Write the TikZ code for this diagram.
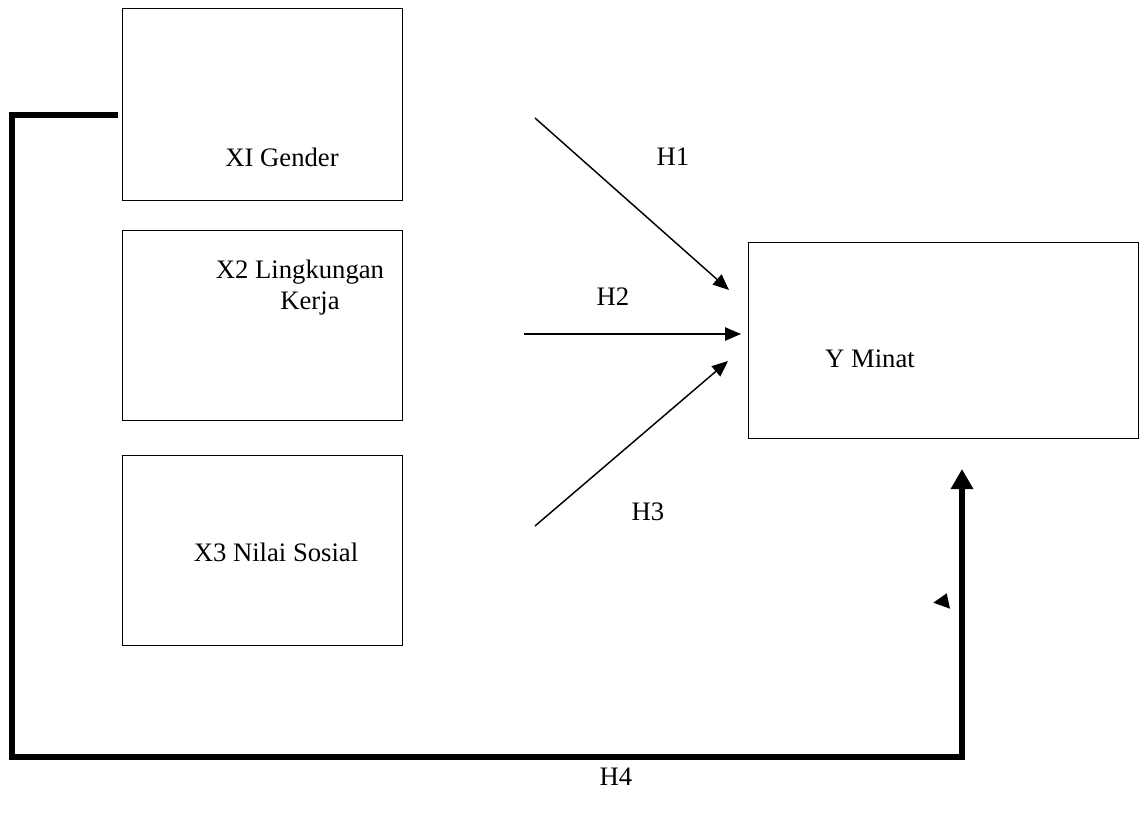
\documentclass[tikz,border=0pt]{standalone}
\usepackage{fontspec}
\setmainfont{Liberation Serif}
\usetikzlibrary{arrows.meta}
\begin{document}
\begin{tikzpicture}[x=0.75pt,y=-0.75pt,
  box/.style={draw,line width=0.9pt,anchor=north west,inner sep=0pt},
  lbl/.style={font=\fontsize{20}{24}\selectfont,inner sep=0pt},
  thin/.style={line width=1.1pt,-{Triangle[length=12pt,width=10pt]}},
  thick/.style={line width=4.5pt,line join=miter}]
\useasboundingbox (0,0) rectangle (1143,818);
\node[box,minimum width=280*0.75pt,minimum height=192*0.75pt] (b1) at (122,8) {};
\node[box,minimum width=280*0.75pt,minimum height=190*0.75pt] (b2) at (122,230) {};
\node[box,minimum width=280*0.75pt,minimum height=190*0.75pt] (b3) at (122,455) {};
\node[box,minimum width=390*0.75pt,minimum height=196*0.75pt] (y) at (748,242) {};
\node[lbl] (t1) at (282,157) {XI Gender};
\node[lbl] (t2a) at (300,272) {X2 Lingkungan};
\node[lbl] (t2b) at (310,304) {Kerja};
\node[lbl] (t3) at (276,552) {X3 Nilai Sosial};
\node[lbl] (ty) at (870,359) {Y Minat};
\node[lbl] (h1) at (673,157) {H1};
\node[lbl] (h2) at (613,297) {H2};
\node[lbl] (h3) at (648,512) {H3};
\node[lbl] (h4) at (616,777) {H4};
\coordinate (s1) at (535,118);
\coordinate (e1) at (729,290);
\coordinate (s2) at (524,334);
\coordinate (e2) at (741,334);
\coordinate (s3) at (535,526);
\coordinate (e3) at (728,361);
\draw[thin] (s1) -- (e1);
\draw[thin] (s2) -- (e2);
\draw[thin] (s3) -- (e3);
\coordinate (f0) at (118,115);
\coordinate (f1) at (12,115);
\coordinate (f2) at (12,757);
\coordinate (f3) at (962,757);
\coordinate (f4) at (962,469);
\draw[thick,-{Triangle[length=15pt,width=16pt]}] (f0) -- (f1) -- (f2) -- (f3) -- (f4);
\coordinate (m1) at (946.7,593.3);
\coordinate (m2) at (933.3,602.7);
\coordinate (m3) at (950,608.7);
\fill (m1) -- (m2) -- (m3) -- cycle;
\end{tikzpicture}
\end{document}
